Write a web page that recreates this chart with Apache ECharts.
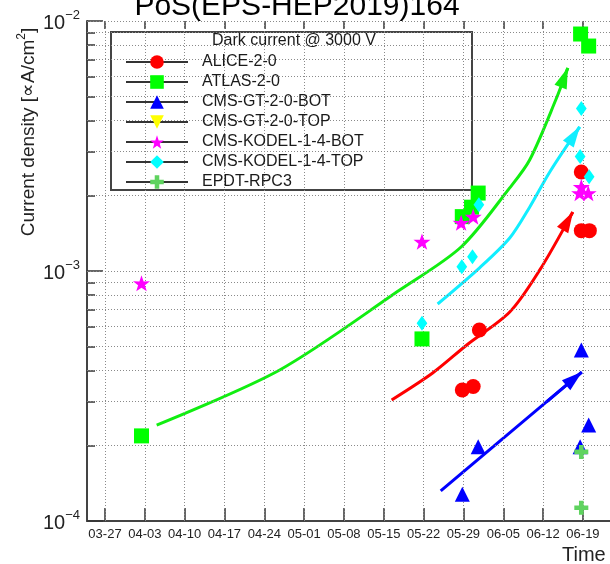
<!DOCTYPE html>
<html><head><meta charset="utf-8">
<script src="https://cdn.jsdelivr.net/npm/echarts@6/dist/echarts.min.js"></script>
<style>html,body{margin:0;padding:0;background:#fff}#c{width:610px;height:564px}</style>
</head><body><div id="c"></div>
<script>
// ---------- data (dates are 2019, "MM-DD HH:mm") ----------
const baseDate = '03-27';
const xTickLabels = ['03-27','04-03','04-10','04-17','04-24','05-01','05-08','05-15','05-22','05-29','06-05','06-12','06-19'];
const yTickExps = [-4, -3, -2];
const seriesNames = ['ALICE-2-0','ATLAS-2-0','CMS-GT-2-0-BOT','CMS-GT-2-0-TOP','CMS-KODEL-1-4-BOT','CMS-KODEL-1-4-TOP','EPDT-RPC3'];

const aliceDates  = ['05-28 19:00','05-30 17:00','05-31 19:00','06-18 17:00','06-18 17:00','06-20 03:00'];
const aliceValues = [3.34e-4, 3.45e-4, 5.81e-4, 2.49e-3, 1.45e-3, 1.45e-3];
const atlasDates  = ['04-02 10:00','05-21 17:00','05-28 19:00','05-30 10:00','05-31 14:00','06-18 14:00','06-20 00:00'];
const atlasValues = [2.19e-4, 5.35e-4, 1.65e-3, 1.80e-3, 2.05e-3, 8.87e-3, 7.94e-3];
const gtBotDates  = ['05-28 19:00','05-31 14:00','06-18 17:00','06-20 00:00','06-18 12:00'];
const gtBotValues = [1.28e-4, 1.98e-4, 4.83e-4, 2.42e-4, 1.98e-4];
const gtTopDates  = [];
const gtTopValues = [];
const kodelBotDates  = ['04-02 10:00','05-21 17:00','05-28 14:00','05-30 17:00','06-18 17:00','06-18 10:00','06-19 22:00'];
const kodelBotValues = [8.93e-4, 1.31e-3, 1.56e-3, 1.65e-3, 2.17e-3, 2.05e-3, 2.05e-3];
const kodelTopDates  = ['05-21 17:00','05-28 17:00','05-30 14:00','05-31 17:00','06-18 17:00','06-18 12:00','06-20 02:00'];
const kodelTopValues = [6.18e-4, 1.04e-3, 1.14e-3, 1.84e-3, 4.47e-3, 2.87e-3, 2.38e-3];
const epdtDates  = ['06-18 17:00','06-18 17:00'];
const epdtValues = [1.89e-4, 1.13e-4];

// trend arrows (hand-drawn guides in the original)
const greenTrendDates  = ['04-05 02:00','04-26 17:00','05-17 19:00','05-28 15:00','06-06 03:00','06-09 15:00','06-14 05:00','06-16 08:00'];
const greenTrendValues = [2.42e-4, 4.02e-4, 8.39e-4, 1.25e-3, 2.15e-3, 2.78e-3, 4.83e-3, 6.49e-3];
const cyanTrendDates   = ['05-24 11:00','05-31 20:00','06-06 03:00','06-09 15:00','06-13 04:00','06-18 10:00'];
const cyanTrendValues  = [7.38e-4, 1.03e-3, 1.355e-3, 1.80e-3, 2.49e-3, 3.77e-3];
const redTrendDates    = ['05-16 09:00','05-23 14:00','05-29 14:00','06-06 03:00','06-11 10:00','06-17 05:00'];
const redTrendValues   = [3.05e-4, 3.91e-4, 5.06e-4, 6.85e-4, 1.01e-3, 1.72e-3];
const blueTrendDates   = ['05-25 00:00','06-18 19:00'];
const blueTrendValues  = [1.32e-4, 3.94e-4];

// ---------- helpers ----------
function day(s) {
  const parts = s.split(' ');
  const hm = parts[1] || '00:00';
  return (Date.parse('2019-' + parts[0] + 'T' + hm + ':00Z') - Date.parse('2019-' + baseDate + 'T00:00:00Z')) / 864e5;
}
const pairs = (ds, vs) => ds.map((d, i) => [day(d), vs[i]]);
const xTickValues = xTickLabels.map(day);
const labelOf = {};
xTickLabels.forEach((l, i) => { labelOf[Math.round(xTickValues[i])] = l; });

const xMin = -3.16, xMax = 88.75;

const gridY = [];
yTickExps.forEach((e, i) => {
  if (i === yTickExps.length - 1) { gridY.push(Math.pow(10, e)); return; }
  for (let k = 1; k <= 9; k++) { if (!(i === 0 && k === 1)) gridY.push(k * Math.pow(10, e)); }
});
const minorLog = [];
yTickExps.slice(0, -1).forEach(e => { for (let k = 2; k <= 9; k++) minorLog.push(Math.log10(k) + e); });

const FONT = "'Liberation Sans', Arial, Helvetica, sans-serif";
const STAR = 'path://M50,0 L61.8,35.1 L97.6,34.5 L69.1,56.7 L79.4,90.5 L50,70 L20.6,90.5 L30.9,56.7 L2.4,34.5 L38.2,35.1 Z';
const DIAMOND = 'path://M5,0 L10,7 L5,14 L0,7 Z';
const PLUS = 'path://M4,0 H8 V4 H12 V8 H8 V12 H4 V8 H0 V4 H4 Z';
const DOWN = 'path://M0,0 L12,0 L6,11 Z';

const markerStyle = [
  { data: pairs(aliceDates, aliceValues),       symbol: 'circle',   size: 15, color: '#ff0000' },
  { data: pairs(atlasDates, atlasValues),       symbol: 'rect',     size: 15, color: '#00ff00' },
  { data: pairs(gtBotDates, gtBotValues),       symbol: 'triangle', size: 15, color: '#0000ff' },
  { data: pairs(gtTopDates, gtTopValues),       symbol: DOWN,       size: 15, color: '#ffff00' },
  { data: pairs(kodelBotDates, kodelBotValues), symbol: STAR,       size: 17, color: '#ff00ff' },
  { data: pairs(kodelTopDates, kodelTopValues), symbol: DIAMOND,    size: 15, color: '#00ffff' },
  { data: pairs(epdtDates, epdtValues),         symbol: PLUS,       size: 14, color: '#5fd35f' }
];

const series = [];
// dotted grid lines
series.push({
  type: 'line', data: [], silent: true, z: 1, animation: false,
  markLine: {
    silent: true, symbol: 'none', animation: false, label: { show: false },
    lineStyle: { type: [1, 2], color: '#8a8a8a', width: 1 },
    data: gridY.map(v => [{ coord: [xMin, v] }, { coord: [xMax, v] }])
      .concat(xTickValues.map(v => [{ coord: [v, 1e-4] }, { coord: [v, 1e-2] }]))
  }
});
markerStyle.forEach((m, i) => {
  series.push({
    name: seriesNames[i], type: 'line', data: m.data, symbol: m.symbol, symbolSize: m.size,
    symbolKeepAspect: true, showSymbol: true, silent: true, animation: false, z: 5,
    lineStyle: { width: 0, opacity: 0 }, itemStyle: { color: m.color, opacity: 1 }
  });
});
function trend(ds, vs, color) {
  const pts = pairs(ds, vs);
  const tip = pts[pts.length - 1], prev = pts[pts.length - 2];
  const f = 0.25;
  const from = [tip[0] + f * (prev[0] - tip[0]), Math.pow(10, Math.log10(tip[1]) + f * (Math.log10(prev[1]) - Math.log10(tip[1])))];
  return {
    type: 'line', data: pts, smooth: 0.3, symbol: 'none', silent: true, animation: false, z: 4,
    lineStyle: { color: color, width: 3 },
    markLine: {
      silent: true, animation: false, symbol: ['none', 'triangle'], symbolSize: [13, 21],
      symbolOffset: [[0, 0], [0, 10]], label: { show: false },
      lineStyle: { color: color, width: 3, type: 'solid' },
      data: [[{ coord: from }, { coord: tip }]]
    }
  };
}
series.push(trend(greenTrendDates, greenTrendValues, '#11ee11'));
series.push(trend(cyanTrendDates, cyanTrendValues, '#11eeff'));
series.push(trend(redTrendDates, redTrendValues, '#ff0000'));
series.push(trend(blueTrendDates, blueTrendValues, '#0000ff'));

const option = {
  animation: false,
  backgroundColor: '#ffffff',
  grid: { left: 87, top: 21, right: 0, height: 500, outerBoundsMode: 'none' },
  xAxis: [{
    type: 'value', min: xMin, max: xMax, position: 'bottom',
    axisLine: { show: true, onZero: false, lineStyle: { color: '#444', width: 2 } },
    axisTick: { show: true, inside: true, length: 13, customValues: xTickValues, lineStyle: { color: '#333', width: 1.5 } },
    axisLabel: { show: true, customValues: xTickValues, margin: 7, fontSize: 13, color: '#222', fontFamily: FONT,
      formatter: v => labelOf[Math.round(v)] || '' },
    splitLine: { show: false }
  }, {
    type: 'value', min: xMin, max: xMax, position: 'top',
    axisLine: { show: false, onZero: false },
    axisTick: { show: true, inside: true, length: 8, customValues: xTickValues, lineStyle: { color: '#333', width: 1.5 } },
    axisLabel: { show: false }, splitLine: { show: false }
  }],
  yAxis: [{
    type: 'log', logBase: 10, min: 1e-4, max: 1e-2, position: 'left',
    axisLine: { show: true, onZero: false, lineStyle: { color: '#444', width: 2 } },
    axisTick: { show: true, inside: true, length: 16, lineStyle: { color: '#333', width: 1.5 } },
    minorTick: { show: false },
    axisLabel: { show: true, margin: 7, color: '#222',
      formatter: v => '{b|10}{e|\u2212' + Math.abs(Math.round(Math.log10(v))) + '}',
      rich: {
        b: { fontSize: 20, fontFamily: FONT, color: '#222', lineHeight: 24, verticalAlign: 'bottom' },
        e: { fontSize: 13, fontFamily: FONT, color: '#222', lineHeight: 24, verticalAlign: 'top', padding: [0, 0, 8, 0] }
      } },
    splitLine: { show: false }
  }, {
    type: 'value', min: -4, max: -2, position: 'left',
    axisLine: { show: false, onZero: false },
    axisTick: { show: true, inside: true, length: 8, customValues: minorLog, lineStyle: { color: '#333', width: 1.5 } },
    axisLabel: { show: false }, splitLine: { show: false }
  }],
  legend: {
    show: true, orient: 'vertical', left: 125, top: 54, padding: 0,
    itemWidth: 62, itemHeight: 17, itemGap: 4, selectedMode: false, z: 10,
    data: seriesNames,
    lineStyle: { color: '#333', width: 2, opacity: 1, type: 'solid' },
    textStyle: { fontSize: 16, color: '#1a1a1a', fontFamily: FONT, padding: [0, 0, 0, 9] }
  },
  graphic: [
    { type: 'rect', z: 3, silent: true, shape: { x: 111, y: 32, width: 361, height: 158 },
      style: { fill: '#ffffff', stroke: '#444', lineWidth: 2 } },
    { type: 'text', z: 11, silent: true, x: 294, y: 41,
      style: { text: 'Dark current @ 3000 V', fontSize: 16, fontFamily: FONT, fill: '#1a1a1a',
        align: 'center', verticalAlign: 'middle', textAlign: 'center', textVerticalAlign: 'middle' } },
    { type: 'text', z: 11, silent: true, x: 297, y: 7,
      style: { text: 'PoS(EPS-HEP2019)164', fontSize: 30, fontFamily: FONT, fill: '#000',
        align: 'center', verticalAlign: 'middle', textAlign: 'center', textVerticalAlign: 'middle' } },
    { type: 'text', z: 11, silent: true, x: 27, y: 132, rotation: Math.PI / 2,
      style: { text: '{t|Current density [\u221DA/cm}{s|2}{t|]}', fontFamily: FONT, fill: '#222',
        align: 'center', verticalAlign: 'middle', textAlign: 'center', textVerticalAlign: 'middle',
        rich: { t: { fontSize: 19, fontFamily: FONT, fill: '#222', lineHeight: 22, verticalAlign: 'bottom' },
                s: { fontSize: 12, fontFamily: FONT, fill: '#222', lineHeight: 22, verticalAlign: 'top' } } } },
    { type: 'text', z: 11, silent: true, x: 562, y: 555,
      style: { text: 'Time', fontSize: 20, fontFamily: FONT, fill: '#222',
        align: 'left', verticalAlign: 'middle', textAlign: 'left', textVerticalAlign: 'middle' } }
  ],
  series: series
};
const chart = echarts.init(document.getElementById('c'), null, { renderer: 'canvas' });
chart.setOption(option);
</script>
</body></html>
